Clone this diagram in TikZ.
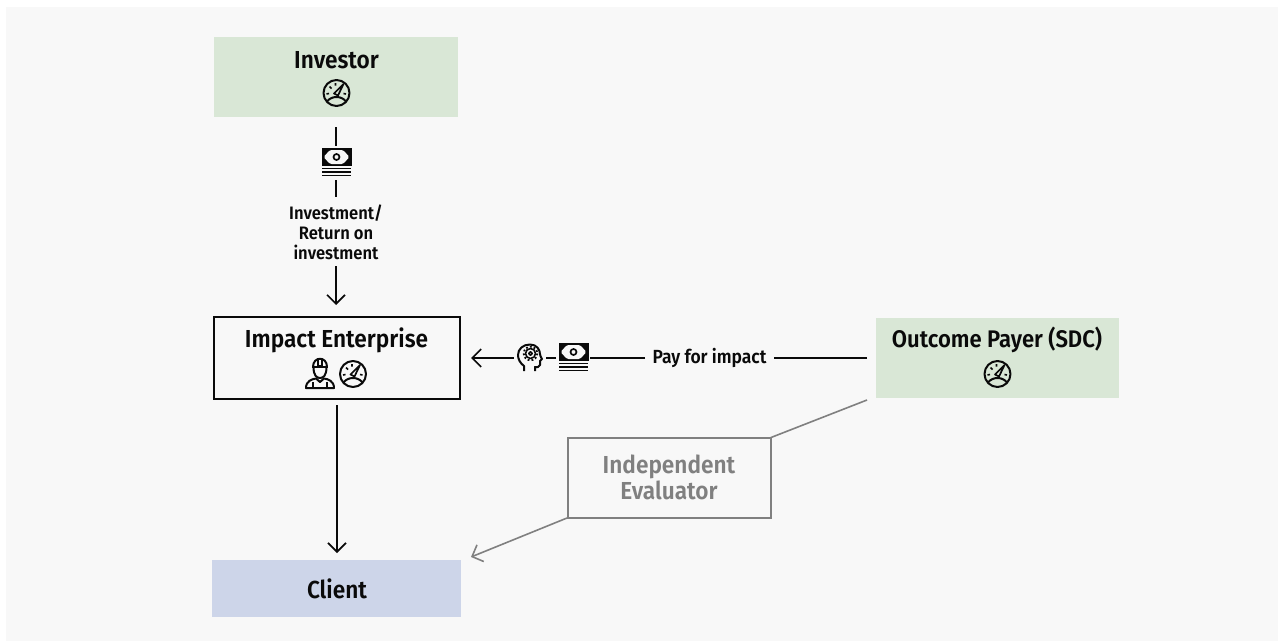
\documentclass[tikz,border=0pt]{standalone}
\usepackage{fontspec}
\setmainfont{Fira Sans}[UprightFont=* SemiBold,BoldFont=* SemiBold,FakeStretch=0.92]
\usetikzlibrary{arrows.meta}
\definecolor{pagegray}{HTML}{F8F8F8}
\definecolor{fundgreen}{HTML}{D9E7D6}
\definecolor{clientblue}{HTML}{CDD5E9}
\definecolor{evalgray}{HTML}{808080}
\definecolor{inkblack}{HTML}{0A0A0A}
\tikzset{
	box/.style={minimum width=#1,inner sep=0pt,align=center,font=\fontsize{24.6}{26}\selectfont,text=inkblack},
	label/.style={inner sep=0pt,align=center,font=\fontsize{18}{20}\selectfont,text=inkblack},
	conn/.style={line width=1.6pt,draw=inkblack},
	arr/.style={conn,-{Straight Barb[length=9pt,width=18pt,line width=1.6pt]}},
	grayarr/.style={line width=1.6pt,draw=evalgray,-{Straight Barb[length=9pt,width=18pt,line width=1.6pt]}},
	icon/.style={line width=2pt,draw=inkblack,line join=round},
	gauge/.pic={
		\draw[icon] (0,0) circle (13);
		\draw[icon] (-9.5,8.5) .. controls (-5,2.5) and (5,2.5) .. (9.5,8.5);
		\draw[icon,line width=1.7pt] (-2.5,0.5) -- (7,-9) -- (1.5,2.5) -- cycle;
		\draw[icon,line width=1.6pt] (-10,1) -- (-7.5,0.5) (-7,-6.5) -- (-5,-4.5) (-1,-10) -- (-1,-7.5) (9.5,1) -- (7,0.5);
	},
	money/.pic={
		\fill[inkblack] (-15,-14) rectangle (15,4);
		\fill[pagegray,rounded corners=1.5pt] (-13,-5) -- (-6.5,-12) -- (6.5,-12) -- (13,-5) -- (6.5,2) -- (-6.5,2) -- cycle;
		\draw[icon,line width=1.7pt] (0,-5) circle (3);
		\draw[icon,line width=1.5pt] (-14.5,6.5) -- (14.5,6.5) (-14.5,10) -- (14.5,10) (-14.5,13.5) -- (14.5,13.5);
	},
	worker/.pic={
		\draw[icon] (-6.5,-6) .. controls (-6.5,3) and (-3,5) .. (0,5) .. controls (3,5) and (6.5,3) .. (6.5,-6);
		\draw[icon] (-8,-6) -- (8,-6);
		\draw[icon] (-7,-6) .. controls (-7,-17) and (7,-17) .. (7,-6);
		\draw[icon] (-2.2,-14) rectangle (2.2,-7);
		\draw[icon] (-14,15) .. controls (-14,8) and (-8,6) .. (-4,5.5) -- (0,9) -- (4,5.5) .. controls (8,6) and (14,8) .. (14,15) -- cycle;
		\draw[icon] (-7,15) -- (-7,9) (7,15) -- (7,9);
	},
	head/.pic={
		\draw[icon] (-6,13) -- (-6,8) .. controls (-10,5) and (-12,1) .. (-12,-3) .. controls (-12,-9) and (-7,-13.5) .. (0,-13.5) .. controls (7,-13.5) and (10,-8) .. (10,-4) .. controls (10,-2) and (11,-1) .. (12,1) -- (10,3) -- (10,7) .. controls (9,10) and (7,9) .. (5,9) -- (5,13);
		\draw[icon,line width=1.5pt] (0.5,-4.5) circle (1.8);
		\draw[icon,line width=1.6pt] (0.5,-4.5) circle (5);
		\draw[icon,line width=1.8pt,dash pattern=on 1.8pt off 2.1pt] (0.5,-4.5) circle (6.8);
	},
}
\begin{document}
\begin{tikzpicture}[x=1pt,y=-1pt]
	\useasboundingbox (0,0) rectangle (1282,642);
	\fill[white] (0,0) rectangle (1282,642);
	\fill[pagegray] (6,7) rectangle (1278,641);

	% boxes
	\fill[fundgreen] (214,37) rectangle (458,117);
	\fill[fundgreen] (876,318) rectangle (1119,398);
	\fill[clientblue] (212,560) rectangle (461,617);
	\node[draw=inkblack,line width=2pt,minimum width=246pt,minimum height=82pt] (impactbox) at (336.5,357.5) {};
	\node[draw=evalgray,line width=2pt,minimum width=203pt,minimum height=80pt] (evaluatorbox) at (669,477.5) {};

	% box texts
	\node[box=244pt] (investor) at (336.5,60) {Investor};
	\node[box=244pt] (impact) at (336.5,340) {Impact Enterprise};
	\node[box=244pt,font=\fontsize{24}{26}\selectfont] (payer) at (997,340) {Outcome Payer (SDC)};
	\node[box=244pt] (client) at (337,589) {Client};
	\node[box=200pt,text=evalgray] (evaluator) at (669,477.5) {Independent\\[-0.5pt]Evaluator};

	% icons
	\pic at (336.5,93) {gauge};
	\pic at (353,374) {gauge};
	\pic at (997.5,374) {gauge};
	\pic at (320,373) {worker};
	\pic at (336.5,162) {money};
	\pic at (573.5,357) {money};
	\pic at (530,358) {head};

	% labels
	\node[label] (investment) at (336,232.5) {Investment/\\Return on\\investment};
	\node[label,font=\fontsize{19}{20}\selectfont] (payimpact) at (709.5,358) {Pay for impact};

	% free ends
	\coordinate (investorout) at (336,127);
	\coordinate (moneytop) at (336,146);
	\coordinate (moneybottom) at (336,180);
	\coordinate (investmenttop) at (336,197);
	\coordinate (investmentbottom) at (336,266);
	\coordinate (impactin) at (336,305);
	\coordinate (impactout) at (337,405);
	\coordinate (clientin) at (337,553);
	\coordinate (payerout) at (867,358);
	\coordinate (payleft) at (645,358);
	\coordinate (payright) at (774,358);
	\coordinate (moneyright) at (590,358);
	\coordinate (moneyleft) at (556,358);
	\coordinate (headright) at (546,358);
	\coordinate (headleft) at (514,358);
	\coordinate (impactright) at (471,358);
	\coordinate (payerlow) at (867,400);
	\coordinate (evaluatorright) at (771,437.5);
	\coordinate (evaluatorleft) at (567,518);
	\coordinate (clientright) at (471,557);

	% connectors
	\draw[conn] (investorout) -- (moneytop);
	\draw[conn] (moneybottom) -- (investmenttop);
	\draw[arr] (investmentbottom) -- (impactin);
	\draw[arr] (impactout) -- (clientin);
	\draw[conn] (payerout) -- (payright);
	\draw[conn] (payleft) -- (moneyright);
	\draw[conn] (moneyleft) -- (headright);
	\draw[arr] (headleft) -- (impactright);
	\draw[line width=1.6pt,draw=evalgray] (payerlow) -- (evaluatorright);
	\draw[grayarr] (evaluatorleft) -- (clientright);
\end{tikzpicture}
\end{document}
